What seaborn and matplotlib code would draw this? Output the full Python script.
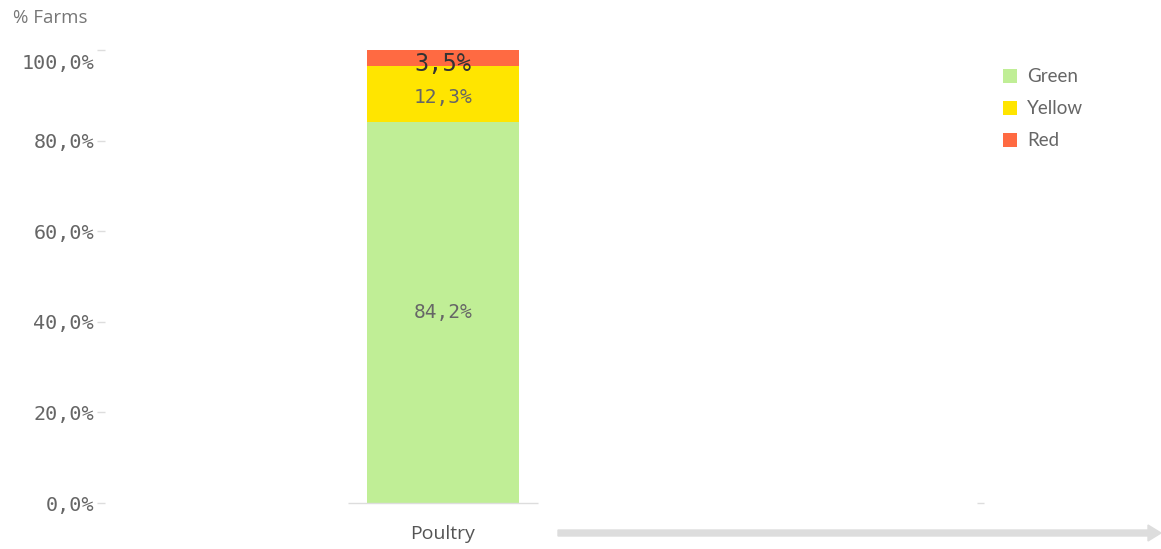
import matplotlib
matplotlib.use("Agg")
import matplotlib.pyplot as plt
import seaborn as sns
import pandas as pd
import numpy as np

# Data
categories = ["Poultry"]
series_names = ["Green", "Yellow", "Red"]
green = [84.2]
yellow = [12.3]
red = [3.5]
series_colors = ["#C0EE96", "#FFE500", "#FF6A42"]
y_ticks = [0, 20, 40, 60, 80, 100]
y_label = "% Farms"

sns.set_theme(style="white")
plt.rcParams["font.family"] = ["Open Sans", "DejaVu Sans"]

fig = plt.figure(figsize=(11.61, 5.49), dpi=100)
ax = fig.add_axes([105 / 1161, 46 / 549, 885 / 1161, 453 / 549])

df = pd.DataFrame({"category": categories, "Green": green, "Yellow": yellow, "Red": red})
values = [df["Green"], df["Yellow"], df["Red"]]
bottom = np.zeros(len(categories))
for name, vals, col in zip(series_names, values, series_colors):
    sns.barplot(x=df["category"], y=vals, bottom=bottom, color=col, width=0.8,
                ax=ax, label=name, saturation=1, linewidth=0, clip_on=False)
    bottom = bottom + vals.to_numpy()

ax.set_xlim(-1.78, 2.88)
ax.set_ylim(0, 100)

# Segment labels
mono = "DejaVu Sans Mono"
cum = 0.0
for i, (name, vals) in enumerate(zip(series_names, values)):
    v = float(vals.iloc[0])
    txt = f"{v:.1f}%".replace(".", ",")
    if name == "Red":
        ax.text(0, cum + v / 2 - 1.3, txt, ha="center", va="center", family=mono,
                fontsize=17, color="#333333", clip_on=False)
    elif name == "Yellow":
        ax.text(0, cum + v / 2 - 0.8, txt, ha="center", va="center", family=mono,
                fontsize=14, color="#666666")
    else:
        ax.text(0, cum + v / 2, txt, ha="center", va="center", family=mono,
                fontsize=14, color="#666666")
    cum += v

# Y axis: the top label sits just below its tick so it stays inside the plot
ax.set_yticks(y_ticks)
labels = [f"{t:.1f}%".replace(".", ",") for t in y_ticks]
ax.set_yticklabels(labels[:-1] + [""], family=mono, fontsize=14.5, color="#666666")
ax.annotate(labels[-1], xy=(0, y_ticks[-1]), xycoords=ax.get_yaxis_transform(),
            xytext=(-11, -14), textcoords="offset pixels", ha="right", va="center",
            family=mono, fontsize=14.5, color="#666666", annotation_clip=False)
ax.tick_params(axis="y", length=6, color="#dddddd", width=1, pad=2, left=True)
ax.tick_params(axis="x", length=0, pad=16, labelsize=14, labelcolor="#555555")
ax.set_xlabel("")
ax.set_ylabel("")
for s in ax.spines.values():
    s.set_visible(False)

# Category baseline and end tick
ax.hlines(0, -0.5, 0.5, color="#dddddd", linewidth=1, clip_on=False)
ax.hlines(0, 2.81, 2.85, color="#dddddd", linewidth=1, clip_on=False)

fig.text(13 / 1161, 1 - 18 / 549, y_label, fontsize=13.5, color="#777777",
         ha="left", va="center")

# Scroll arrow
fig.patches.append(matplotlib.patches.FancyArrow(
    558 / 1161, 1 - 533 / 549, (1148 - 558) / 1161, 0, width=6 / 549,
    head_width=16 / 549, head_length=13 / 1161, length_includes_head=False,
    color="#dddddd", transform=fig.transFigure, figure=fig))

leg = ax.legend(loc="upper left", bbox_to_anchor=(995 / 1161, 1 - 61 / 549),
                bbox_transform=fig.transFigure, frameon=False,
                prop={"family": "Lato", "size": 13.5},
                handlelength=0.75, handleheight=0.75, handletextpad=0.55,
                labelspacing=0.8, borderaxespad=0)
for t in leg.get_texts():
    t.set_color("#666666")

fig.savefig("out.png", dpi=100, facecolor="white")
